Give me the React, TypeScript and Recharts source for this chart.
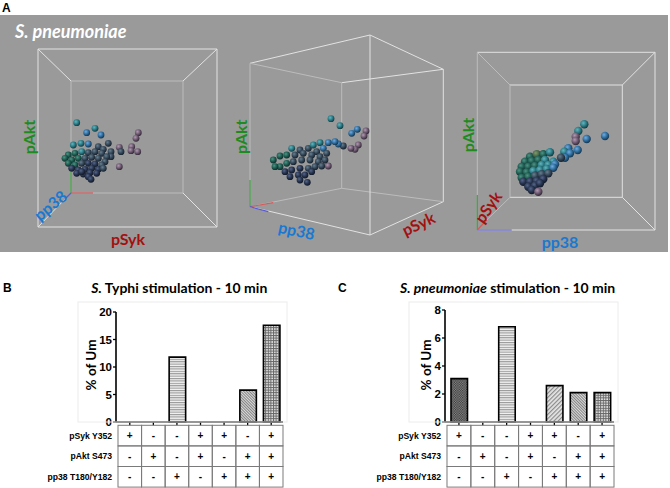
import { Bar, BarChart, Cell, ReferenceLine, Scatter, ScatterChart, XAxis, YAxis } from 'recharts';

// ---- panel B / C data ----
const categories = ['c1', 'c2', 'c3', 'c4', 'c5', 'c6', 'c7'];
const pSykRow = ['+', '-', '-', '+', '+', '-', '+'];
const pAktRow = ['-', '+', '-', '+', '-', '+', '+'];
const pp38Row = ['-', '-', '+', '-', '+', '+', '+'];
const rowLabels = ['pSyk Y352', 'pAkt S473', 'pp38 T180/Y182'];
const typhiValues = [0, 0, 11.8, 0, 0, 5.8, 17.6];
const pneumoValues = [3.1, 0, 6.8, 0, 2.6, 2.1, 2.1];
const typhiTicks = [0, 5, 10, 15, 20];
const pneumoTicks = [0, 2, 4, 6, 8];
const barPatterns = ['pat-check', 'pat-check', 'pat-hline', 'pat-grid', 'pat-diag', 'pat-fine', 'pat-grid'];

// ---- panel A: projected cell positions per view (x, y in panel units, tone) ----
const view1Cells = [
    [76.7, 122.7, 't'], [86.7, 132.7, 'b'], [95, 128.3, 't'], [101, 135, 'b'], [138.3, 132.7, 'm'],
    [136, 138.3, 'm'], [131.7, 146.7, 'm'], [137.7, 151.7, 'm'], [131, 150.7, 'm'], [119.3, 147.3, 'm'],
    [121, 151.7, 's'], [119.3, 166.7, 'm'], [108.3, 143.3, 's'], [111, 151.7, 's'], [111, 156.7, 's'],
    [73.3, 145, 't'], [81, 143.3, 't'], [88.3, 144, 'b'], [98.3, 146.7, 's'], [103.3, 149.3, 's'],
    [68.3, 155, 'g'], [75, 153.3, 'g'], [81.7, 151.7, 't'], [88.3, 152.7, 's'], [95, 151.7, 's'],
    [101.7, 153.3, 's'], [106.7, 156.7, 's'], [65, 158.3, 'g'], [71.7, 160, 'g'], [78.3, 158.3, 'g'],
    [85, 158.3, 's'], [91.7, 157.3, 's'], [98.3, 158.3, 's'], [105, 161.7, 's'], [68.3, 163.3, 'g'],
    [75, 165, 'g'], [81.7, 163.3, 's'], [88.3, 163.3, 'n'], [95, 164, 'n'], [101.7, 165, 's'],
    [71.7, 168.3, 'n'], [78.3, 170, 'n'], [85, 169.3, 'n'], [91.7, 168.3, 'n'], [98.3, 169.3, 'n'],
    [103.3, 168.3, 's'], [76.7, 173.3, 'n'], [83.3, 174, 'n'], [90, 172.7, 'n'], [96.7, 173.3, 'n'],
    [88.3, 176.7, 'n'], [91, 179.3, 'n'], [81.7, 171.7, 'n'],
];
const view2Cells = [
    [331, 118.7, 't'], [340, 125.7, 't'], [357.3, 129.3, 'b'], [351.7, 133.3, 'b'], [366, 131, 'm'],
    [364, 136, 'm'], [358.3, 145, 'm'], [355, 149.3, 'm'], [351, 148.3, 'm'], [343.3, 146, 's'],
    [338.3, 144, 'b'], [328.3, 166, 'm'], [335, 141.7, 'b'],
    [291.7, 148.3, 't'], [300, 150, 's'], [308.3, 148.3, 's'], [313.3, 145, 't'], [320, 142.7, 't'],
    [328.3, 142.7, 'b'], [323.3, 148.3, 'b'], [316.7, 151.7, 's'], [273.3, 160, 'g'], [280, 156, 'g'],
    [286.7, 155, 'g'], [295, 155, 's'], [303.3, 153.3, 's'], [311.7, 155, 's'], [320, 156.7, 's'],
    [326.7, 153.3, 's'], [280, 166.7, 'g'], [286.7, 163.3, 'g'], [293.3, 161.7, 's'], [301.7, 160, 's'],
    [310, 160, 's'], [318.3, 161.7, 's'], [325, 160, 's'], [285, 171.7, 'n'], [291.7, 170, 'n'],
    [300, 168.3, 'n'], [308.3, 168.3, 's'], [315, 166.7, 's'], [321.7, 166, 's'], [290, 176.7, 'n'],
    [298.3, 175, 'n'], [305, 175, 'n'], [311.7, 171.7, 'n'], [300, 180, 'n'], [307.3, 182.3, 'n'],
    [275, 166.7, 'g'],
];
const view3Cells = [
    [584.3, 124.3, 't'], [578.3, 131, 't'], [575.7, 136.7, 'm'], [575.7, 141, 'm'], [586.7, 139, 'b'],
    [605, 136, 'b'], [577.7, 150, 'b'], [568.3, 148.3, 'b'], [564.3, 151.7, 't'], [570, 153.3, 'b'],
    [565, 157.7, 'b'], [561, 157.7, 's'],
    [530, 156.7, 'g'], [536.7, 154.3, 'o'], [543.3, 154.3, 'g'], [550, 152.3, 't'], [525, 161.7, 'g'],
    [531.7, 161, 'g'], [538.3, 160, 'g'], [545, 160, 't'], [553.3, 161.7, 't'], [521.7, 166.7, 'g'],
    [528.3, 166.7, 'g'], [535, 165.7, 'g'], [541.7, 165, 't'], [548.3, 165, 't'], [555, 164.3, 'b'],
    [520, 171.7, 'g'], [526.7, 172.3, 'g'], [533.3, 171, 't'], [540, 170, 't'], [546.7, 169, 't'],
    [553.3, 167.7, 'b'], [521.7, 177.7, 'g'], [528.3, 176.7, 'g'], [535, 175.7, 's'], [541.7, 174.3, 's'],
    [548.3, 173.3, 's'], [523.3, 181.7, 'n'], [530, 181.7, 'n'], [536.7, 181, 'n'], [543.3, 179, 'n'],
    [528.3, 186.7, 'n'], [535, 185.7, 'n'], [540, 183.3, 'n'], [531.7, 190, 'n'], [538.3, 191.7, 'm'],
];

// wireframe boxes: [x1, y1, x2, y2, bright]
const box1Edges = [
    [38, 49, 217, 49, 1], [217, 49, 217, 227, 1], [217, 227, 38, 227, 1], [38, 227, 38, 49, 1],
    [71, 81, 183, 81, 0], [183, 81, 183, 193, 0], [183, 193, 71, 193, 0], [71, 193, 71, 81, 0],
    [38, 49, 71, 81, 1], [217, 49, 183, 81, 1], [217, 227, 183, 193, 1], [38, 227, 66, 198, 1],
];
const box2Edges = [
    [250, 63.3, 370, 35, 1], [370, 35, 443.3, 69.3, 1], [443.3, 69.3, 341.7, 82.7, 1], [341.7, 82.7, 250, 63.3, 0],
    [250, 206.7, 370, 235, 1], [370, 235, 443.3, 201.7, 1], [443.3, 201.7, 341.7, 188.3, 0], [341.7, 188.3, 250, 206.7, 0],
    [250, 63.3, 250, 206.7, 0], [370, 35, 370, 235, 1], [443.3, 69.3, 443.3, 201.7, 1], [341.7, 82.7, 341.7, 188.3, 0],
];
const box3Edges = [
    [477.3, 52.3, 655, 52.3, 1], [655, 52.3, 655, 230, 1], [655, 230, 477.3, 230, 1], [477.3, 230, 477.3, 52.3, 0],
    [510, 85, 622.3, 85, 1], [622.3, 85, 622.3, 197.3, 1], [622.3, 197.3, 510, 197.3, 1], [510, 197.3, 510, 85, 0],
    [477.3, 52.3, 510, 85, 0], [655, 52.3, 622.3, 85, 1], [655, 230, 622.3, 197.3, 1], [486.7, 220, 510, 197.3, 0],
];
// coloured axis stubs: [x1, y1, x2, y2, colour]
const axisStubs = [
    [71, 193, 93, 193, '#d65a5a'], [71, 193, 71, 172, '#3fa03f'], [71, 193, 66, 198, '#5a5ad6'],
    [250, 206.7, 273.3, 202.7, '#d65a5a'], [250, 206.7, 250, 180, '#3fa03f'], [250, 206.7, 268.3, 211.7, '#5a5ad6'],
    [477.3, 230, 511.7, 230, '#5a5ad6'], [477.3, 230, 477.3, 195, '#3fa03f'], [477.3, 230, 486.7, 220, '#d65a5a'],
];

const tones: Record<string, [string, string, string]> = {
    g: ['#4f9484', '#1f5c52', '#0f2e2a'],
    o: ['#7f9a6a', '#4a6a4c', '#22331f'],
    t: ['#66b5bd', '#2a7a85', '#123c42'],
    b: ['#72ace0', '#2f6e9e', '#163650'],
    n: ['#56668a', '#283550', '#121a28'],
    m: ['#b09ab2', '#6e5a72', '#352b38'],
    s: ['#66808f', '#35485a', '#18222c'],
};

const GREEN = '#1f8a1f';
const BLUE = '#1a78d0';
const RED = '#a31010';
const LABEL_FONT = 'Lato, "Open Sans", sans-serif';

const toPoints = (cells: (number | string)[][]) =>
    cells.map(([x, y, tone]) => ({ x, y, tone }));

const sphere = (r: number) => (p: any) => (
    <circle cx={p.cx} cy={p.cy} r={r} fill={`url(#sph-${p.payload.tone})`} />
);

const ROW_H = 20.6;
const tableRows = [pSykRow, pAktRow, pp38Row];

const TableTick = (props: any) => {
    const { x, y, index, band } = props;
    return (
        <g>
            {tableRows.map((row, r) => (
                <g key={r}>
                    <rect
                        x={x - band / 2}
                        y={y + r * ROW_H}
                        width={band}
                        height={ROW_H}
                        fill="none"
                        stroke="#7a7a7a"
                        strokeWidth={1}
                    />
                    <text
                        x={x}
                        y={y + r * ROW_H + ROW_H / 2 + 3.5}
                        textAnchor="middle"
                        fontFamily='"Liberation Sans", Arial, sans-serif'
                        fontWeight={700}
                        fontSize={10}
                        fill="#000"
                    >
                        {row[index]}
                    </text>
                </g>
            ))}
            {index === 0 &&
                rowLabels.map((label, r) => (
                    <text
                        key={label}
                        x={x - band / 2 - 6}
                        y={y + r * ROW_H + ROW_H / 2 + 3}
                        textAnchor="end"
                        fontFamily='"Liberation Sans Narrow", "Liberation Sans", Arial, sans-serif'
                        fontWeight={700}
                        fontSize={8.6}
                        fill="#000"
                    >
                        {label}
                    </text>
                ))}
        </g>
    );
};

interface PhosphoBarsProps {
    values: number[];
    yMax: number;
    ticks: number[];
    top: number;
    left: number;
    right: number;
    band: number;
}

const PhosphoBars = ({ values, yMax, ticks, top, left, right, band }: PhosphoBarsProps) => {
    const data = categories.map((id, i) => ({ id, value: values[i] }));
    return (
        <BarChart width={300} height={218} data={data} margin={{ top, right, bottom: 0, left }}>
            <XAxis
                dataKey="id"
                interval={0}
                padding={{ left: 2, right: 0 }}
                height={66}
                axisLine={{ stroke: '#000', strokeWidth: 1.6 }}
                tickLine={{ stroke: '#000', strokeWidth: 1.3 }}
                tickSize={3.3}
                tickMargin={0}
                tick={<TableTick band={band} />}
            />
            <YAxis
                domain={[0, yMax]}
                ticks={ticks}
                interval={0}
                width={40}
                axisLine={{ stroke: '#000', strokeWidth: 1.6 }}
                tickLine={{ stroke: '#000', strokeWidth: 1.3 }}
                tickSize={3}
                tickMargin={1}
                tick={{ fill: '#000', fontSize: 11.5, fontWeight: 700, fontFamily: '"Liberation Sans", Arial, sans-serif' }}
            />
            <Bar dataKey="value" barSize={16.5} stroke="#000" strokeWidth={1.6} isAnimationActive={false}>
                {data.map((d, i) => (
                    <Cell key={d.id} fill={`url(#${barPatterns[i]})`} />
                ))}
            </Bar>
        </BarChart>
    );
};

const edgeLines = (edges: (number | string)[][], prefix: string) =>
    edges.map(([x1, y1, x2, y2, bright], i) => (
        <ReferenceLine
            key={`${prefix}${i}`}
            segment={[{ x: x1 as number, y: y1 as number }, { x: x2 as number, y: y2 as number }]}
            stroke={bright ? '#e2e2e2' : '#bcbcbc'}
            strokeWidth={1}
            ifOverflow="visible"
        />
    ));

const axisLabel = (text: string, cx: number, cy: number, angle: number, color: string, key: string) => (
    <text
        key={key}
        transform={`translate(${cx},${cy}) rotate(${angle})`}
        textAnchor="middle"
        dominantBaseline="central"
        fontFamily={LABEL_FONT}
        fontWeight={700}
        fontSize={16}
        fill={color}
    >
        {text}
    </text>
);

export default function App() {
    return (
        <div style={{ position: 'relative', width: 670, height: 488, background: '#fff', overflow: 'hidden' }}>
            <style>{'body{margin:0}'}</style>
            <svg width={0} height={0} style={{ position: 'absolute' }}>
                <defs>
                    {Object.entries(tones).map(([k, [hi, mid, lo]]) => (
                        <radialGradient key={k} id={`sph-${k}`} cx="38%" cy="35%" r="65%">
                            <stop offset="0%" stopColor={hi} />
                            <stop offset="55%" stopColor={mid} />
                            <stop offset="100%" stopColor={lo} />
                        </radialGradient>
                    ))}
                    <pattern id="pat-check" width={2.4} height={2.4} patternUnits="userSpaceOnUse">
                        <rect width={2.4} height={2.4} fill="#8e8e8e" />
                        <rect width={1.2} height={1.2} fill="#333" />
                        <rect x={1.2} y={1.2} width={1.2} height={1.2} fill="#333" />
                    </pattern>
                    <pattern id="pat-hline" width={4} height={2.4} patternUnits="userSpaceOnUse">
                        <rect width={4} height={2.4} fill="#f4f4f4" />
                        <rect width={4} height={1.1} fill="#979797" />
                    </pattern>
                    <pattern id="pat-diag" width={3} height={3} patternUnits="userSpaceOnUse" patternTransform="rotate(45)">
                        <rect width={3} height={3} fill="#e6e6e6" />
                        <rect width={1.2} height={3} fill="#8a8a8a" />
                    </pattern>
                    <pattern id="pat-fine" width={2} height={2} patternUnits="userSpaceOnUse" patternTransform="rotate(-45)">
                        <rect width={2} height={2} fill="#dadada" />
                        <rect width={0.9} height={2} fill="#7a7a7a" />
                    </pattern>
                    <pattern id="pat-grid" width={2.6} height={2.6} patternUnits="userSpaceOnUse">
                        <rect width={2.6} height={2.6} fill="#e8e8e8" />
                        <rect width={2.6} height={1} fill="#666" />
                        <rect width={1} height={2.6} fill="#666" />
                    </pattern>
                </defs>
            </svg>

            {/* panel A */}
            <div style={{ position: 'absolute', left: 0, top: 15, width: 668, height: 237, background: '#9a9a9a' }}>
                <ScatterChart width={668} height={237} margin={{ top: 0, right: 0, bottom: 0, left: 0 }}>
                    <XAxis type="number" dataKey="x" domain={[0, 668]} hide allowDataOverflow />
                    <YAxis type="number" dataKey="y" domain={[15, 252]} reversed hide allowDataOverflow width={0} />
                    {edgeLines(box1Edges, 'a')}
                    {edgeLines(box2Edges, 'b')}
                    {edgeLines(box3Edges, 'c')}
                    {axisStubs.map(([x1, y1, x2, y2, c], i) => (
                        <ReferenceLine
                            key={`s${i}`}
                            segment={[{ x: x1 as number, y: y1 as number }, { x: x2 as number, y: y2 as number }]}
                            stroke={c as string}
                            strokeWidth={1.2}
                            ifOverflow="visible"
                        />
                    ))}
                    <Scatter data={toPoints(view1Cells)} shape={sphere(3.4)} isAnimationActive={false} />
                    <Scatter data={toPoints(view2Cells)} shape={sphere(3.4)} isAnimationActive={false} />
                    <Scatter data={toPoints(view3Cells)} shape={sphere(4.2)} isAnimationActive={false} />
                </ScatterChart>
            </div>

            {/* panel B and C */}
            <div style={{ position: 'absolute', left: 0, top: 270 }}>
                <PhosphoBars values={typhiValues} yMax={20} ticks={typhiTicks} top={42} left={76} right={17} band={23.57} />
            </div>
            <div style={{ position: 'absolute', left: 335, top: 270 }}>
                <PhosphoBars values={pneumoValues} yMax={8} ticks={pneumoTicks} top={40} left={70} right={21} band={23.86} />
            </div>

            <svg width={670} height={488} style={{ position: 'absolute', left: 0, top: 0, pointerEvents: 'none' }}>
                <g fontFamily='"Liberation Sans", Arial, sans-serif' fontWeight={700} fontSize={12} fill="#000">
                    <text x={2} y={12}>A</text>
                    <text x={3} y={292}>B</text>
                    <text x={338} y={292}>C</text>
                </g>
                <text x={15} y={37.5} fontFamily={LABEL_FONT} fontWeight={700} fontStyle="italic" fontSize={18} fill="#fff">
                    S. pneumoniae
                </text>
                {axisLabel('pAkt', 28, 137, -90, GREEN, 'l1')}
                {axisLabel('pp38', 50, 205, -40, BLUE, 'l2')}
                {axisLabel('pSyk', 128, 238, 0, RED, 'l3')}
                {axisLabel('pAkt', 240, 136.7, -90, GREEN, 'l4')}
                {axisLabel('pp38', 296.7, 230, 12, BLUE, 'l5')}
                {axisLabel('pSyk', 418.3, 223.3, -25, RED, 'l6')}
                {axisLabel('pAkt', 467.7, 135, -90, GREEN, 'l7')}
                {axisLabel('pSyk', 487.7, 206.7, -55, RED, 'l8')}
                {axisLabel('pp38', 560, 241.7, 0, BLUE, 'l9')}

                <g fontFamily={LABEL_FONT} fontWeight={700} fontSize={14} fill="#000" textAnchor="middle">
                    <text x={179.3} y={293.3}>
                        <tspan fontStyle="italic">S.</tspan> Typhi stimulation - 10 min
                    </text>
                    <text x={507.7} y={293.3}>
                        <tspan fontStyle="italic">S. pneumoniae</tspan> stimulation - 10 min
                    </text>
                    <text transform="translate(96,365) rotate(-90)" fontSize={13.5}>% of Um</text>
                    <text transform="translate(431,365) rotate(-90)" fontSize={13.5}>% of Um</text>
                </g>
                <rect x={78} y={302} width={209} height={120} fill="none" stroke="#ececec" />
                <rect x={409} y={302} width={209} height={120} fill="none" stroke="#ececec" />
            </svg>
        </div>
    );
}
